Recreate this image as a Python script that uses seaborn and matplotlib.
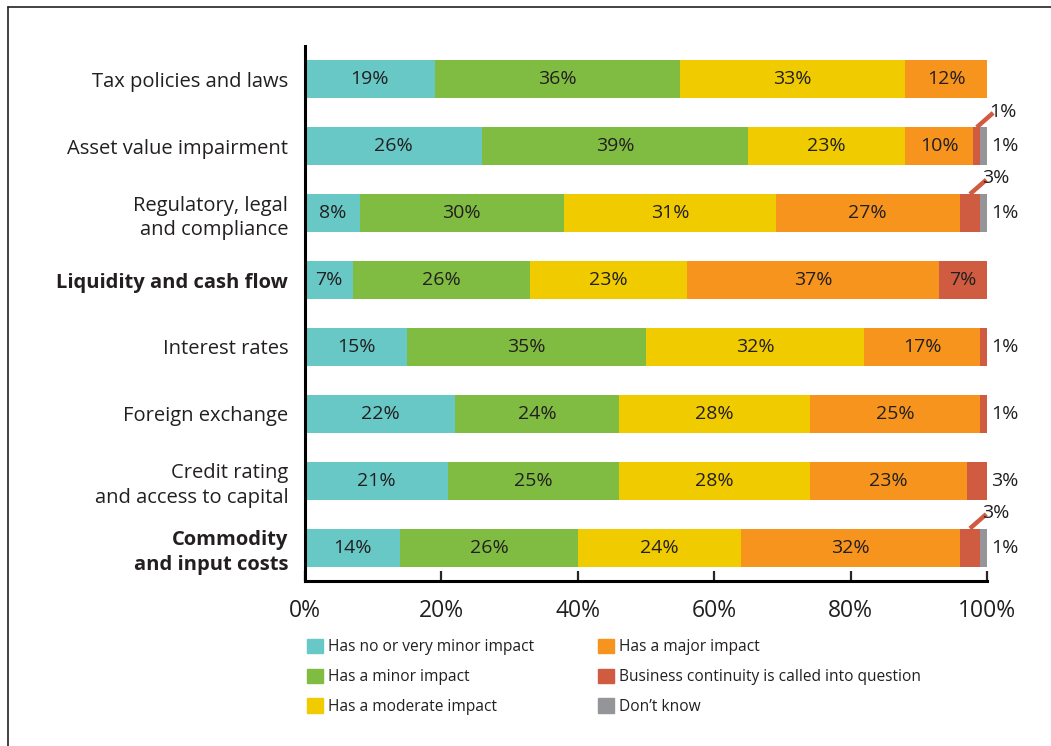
import numpy as np
import pandas as pd
import matplotlib.pyplot as plt
import matplotlib.patches as mpatches
from matplotlib.lines import Line2D
import seaborn as sns

categories = ["Tax policies and laws", "Asset value impairment",
              "Regulatory, legal\nand compliance", "Liquidity and cash flow",
              "Interest rates", "Foreign exchange",
              "Credit rating\nand access to capital", "Commodity\nand input costs"]
bold_categories = ["Liquidity and cash flow", "Commodity\nand input costs"]

series_names = ["Has no or very minor impact", "Has a minor impact",
                "Has a moderate impact", "Has a major impact",
                "Business continuity is called into question", "Don\u2019t know"]
no_impact  = [19, 26, 8, 7, 15, 22, 21, 14]
minor      = [36, 39, 30, 26, 35, 24, 25, 26]
moderate   = [33, 23, 31, 23, 32, 28, 28, 24]
major      = [12, 10, 27, 37, 17, 25, 23, 32]
continuity = [0, 1, 3, 7, 1, 1, 3, 3]
dont_know  = [0, 1, 1, 0, 0, 0, 0, 1]

x_ticks = [0, 20, 40, 60, 80, 100]

TEAL   = "#67c8c6"
GREEN  = "#80bc41"
YELLOW = "#efcb00"
ORANGE = "#f7941d"
RED    = "#cf5b41"
GRAY   = "#939598"
colors = [TEAL, GREEN, YELLOW, ORANGE, RED, GRAY]
TEXT = "#231f20"

sns.set_style("white")
plt.rcParams["font.family"] = ["Open Sans", "DejaVu Sans"]

values = np.array([no_impact, minor, moderate, major, continuity, dont_know], dtype=float)
cum = values.cumsum(axis=0)
df = pd.DataFrame({"category": categories})

fig = plt.figure(figsize=(10.51, 7.46), dpi=100)
ax = fig.add_axes([305 / 1051, 1 - 581 / 746, 682 / 1051, 535 / 746])

# stacked bars: draw cumulative totals from the last series back to the first
for i in range(len(series_names) - 1, -1, -1):
    df["cum"] = cum[i]
    sns.barplot(data=df, x="cum", y="category", orient="h", color=colors[i],
                width=0.57, saturation=1, linewidth=0, ax=ax)

# segment labels
for r in range(len(categories)):
    nz = [i for i in range(len(series_names)) if values[i, r] > 0]
    last = nz[-1]
    for i in nz:
        v = values[i, r]
        mid = cum[i, r] - v / 2
        txt = f"{int(v)}%"
        if v >= 5:
            ax.text(mid, r, txt, ha="center", va="center", fontsize=14, color=TEXT)
        elif i == last:
            ax.text(100.6, r, txt, ha="left", va="center", fontsize=14, color=TEXT)
        else:
            ax.plot([mid, mid + 2.4], [r - 0.285, r - 0.5], color=RED, lw=3.2,
                    solid_capstyle="butt", clip_on=False)
            ax.text(mid + 1.8, r - 0.52, txt, ha="left", va="center",
                    fontsize=14, color=TEXT)

ax.set_xlim(0, 100)
ax.set_ylim(len(categories) - 0.5, -0.5)
ax.set_xticks(x_ticks)
ax.set_xticklabels([f"{t}%" for t in x_ticks], fontsize=16.5, color=TEXT)
ax.tick_params(axis="x", direction="in", length=7, width=1.6, pad=13, bottom=True)
ax.tick_params(axis="y", length=0, pad=12)
ax.set_xlabel("")
ax.set_ylabel("")
for lab in ax.get_yticklabels():
    lab.set_fontsize(14.5)
    lab.set_color(TEXT)
    lab.set_linespacing(1.3)
    if lab.get_text() in bold_categories:
        lab.set_fontweight("bold")
ax.spines[["top", "right"]].set_visible(False)
for s in ["left", "bottom"]:
    ax.spines[s].set_linewidth(2.2)
    ax.spines[s].set_color("#000000")
ax.grid(False)

# legend
handles = [mpatches.Patch(color=c, label=n) for c, n in zip(colors, series_names)]
fig.legend(handles=handles, ncol=2, loc="upper left",
           bbox_to_anchor=(299 / 1051, 1 - 631 / 746), frameon=False,
           fontsize=11.2, handlelength=1.05, handleheight=1.05,
           handletextpad=0.3, labelspacing=0.85, columnspacing=4.1, borderpad=0,
           labelcolor=TEXT)

# outer frame (top and left edges visible)
fig.add_artist(Line2D([8 / 1051, 8 / 1051], [0, 1 - 7 / 746], transform=fig.transFigure,
                      color="#222222", lw=1.2))
fig.add_artist(Line2D([8 / 1051, 1], [1 - 7 / 746, 1 - 7 / 746], transform=fig.transFigure,
                      color="#222222", lw=1.2))

fig.savefig("out.png", dpi=100, facecolor="white")
